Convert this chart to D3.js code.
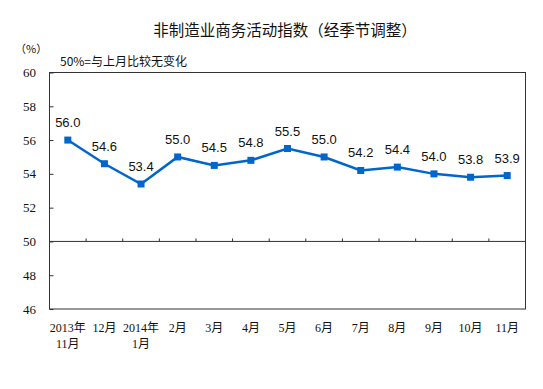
<!DOCTYPE html>
<html>
<head>
<meta charset="utf-8">
<script src="https://cdn.jsdelivr.net/npm/d3@7"></script>
<style>
  body { margin: 0; background: #fff; }
  svg { display: block; }
</style>
</head>
<body>
<div id="chart"></div>
<script>
// months on the category axis (two lines where the year is shown)
const months = [
  ["2013年", "11月"], ["12月"], ["2014年", "1月"], ["2月"], ["3月"], ["4月"],
  ["5月"], ["6月"], ["7月"], ["8月"], ["9月"], ["10月"], ["11月"]
]
const pmi = [56.0, 54.6, 53.4, 55.0, 54.5, 54.8, 55.5, 55.0, 54.2, 54.4, 54.0, 53.8, 53.9]
const yTicks = [46, 48, 50, 52, 54, 56, 58, 60]
const title = "非制造业商务活动指数（经季节调整）"
const unitLabel = "（%）"
const note = "50%=与上月比较无变化"

const width = 543, height = 389
const margin = { top: 72.5, right: 17.5, bottom: 80, left: 49.5 } // plot box 49..526 x 72..309

const svg = d3.select("#chart").append("svg")
  .attr("width", width)
  .attr("height", height)

const x = d3.scaleBand()
  .domain(d3.range(months.length))
  .range([margin.left, width - margin.right])

const y = d3.scaleLinear()
  .domain([46, 60])
  .range([height - margin.bottom, margin.top])

const cjk = "'Noto Sans CJK SC', sans-serif"
const serif = "'Liberation Serif', 'Noto Sans CJK SC', serif"

// title + notes
svg.append("text")
  .attr("x", 285).attr("y", 36)
  .attr("text-anchor", "middle")
  .style("font-family", cjk)
  .style("font-size", "15.5px")
  .style("fill", "#111")
  .text(title)

svg.append("text")
  .attr("x", 15).attr("y", 53)
  .style("font-family", cjk)
  .style("font-size", "11px")
  .style("fill", "#111")
  .text(unitLabel)

svg.append("text")
  .attr("x", 60).attr("y", 66)
  .style("font-family", cjk)
  .style("font-size", "12px")
  .style("fill", "#111")
  .text(note)

// plot frame
svg.append("rect")
  .attr("x", x.range()[0]).attr("y", y(60))
  .attr("width", x.range()[1] - x.range()[0])
  .attr("height", y(46) - y(60))
  .attr("fill", "none")
  .attr("stroke", "#333")
  .attr("stroke-width", 1)

// y axis, ticks pointing inward
const yAxis = d3.axisRight(y).tickValues(yTicks).tickSize(4).tickFormat("")
svg.append("g")
  .attr("transform", "translate(" + x.range()[0] + ",0)")
  .call(yAxis)
  .call(g => g.select(".domain").remove())
  .call(g => g.selectAll("line").attr("stroke", "#333"))

svg.append("g")
  .selectAll("text")
  .data(yTicks)
  .enter()
  .append("text")
  .attr("x", 36)
  .attr("y", d => y(d))
  .attr("dy", "0.35em")
  .attr("text-anchor", "end")
  .style("font-family", serif)
  .style("font-size", "13px")
  .style("fill", "#111")
  .text(d => d)

// category axis crosses at 50, tick marks between months pointing up
const base = y(50)
svg.append("line")
  .attr("x1", x.range()[0]).attr("x2", x.range()[1])
  .attr("y1", base).attr("y2", base)
  .attr("stroke", "#333")

svg.append("g")
  .selectAll("line")
  .data(d3.range(1, months.length))
  .enter()
  .append("line")
  .attr("x1", d => x(d)).attr("x2", d => x(d))
  .attr("y1", base).attr("y2", base - 3)
  .attr("stroke", "#333")

const catLabels = svg.append("g")
  .selectAll("text")
  .data(months)
  .enter()
  .append("text")
  .attr("text-anchor", "middle")
  .style("font-family", serif)
  .style("font-size", "12px")
  .style("fill", "#111")

catLabels.selectAll("tspan")
  .data((d, i) => d.map(t => ({ t, i })))
  .enter()
  .append("tspan")
  .attr("x", d => x(d.i) + x.bandwidth() / 2)
  .attr("y", (d, j) => 332 + j * 15.5)
  .text(d => d.t)

// series
const lineColor = "#0066CC"
const line = d3.line()
  .x((d, i) => x(i) + x.bandwidth() / 2)
  .y(d => y(d))

svg.append("path")
  .datum(pmi)
  .attr("d", line)
  .attr("fill", "none")
  .attr("stroke", lineColor)
  .attr("stroke-width", 2.5)

const ms = 7
svg.append("g")
  .selectAll("rect")
  .data(pmi)
  .enter()
  .append("rect")
  .attr("x", (d, i) => x(i) + x.bandwidth() / 2 - ms / 2)
  .attr("y", d => y(d) - ms / 2)
  .attr("width", ms)
  .attr("height", ms)
  .attr("fill", lineColor)

svg.append("g")
  .selectAll("text")
  .data(pmi)
  .enter()
  .append("text")
  .attr("x", (d, i) => x(i) + x.bandwidth() / 2)
  .attr("y", d => y(d) - 13)
  .attr("text-anchor", "middle")
  .style("font-family", "'Liberation Sans', Arial, sans-serif")
  .style("font-size", "13px")
  .style("fill", "#111")
  .text(d => d.toFixed(1))
</script>
</body>
</html>
